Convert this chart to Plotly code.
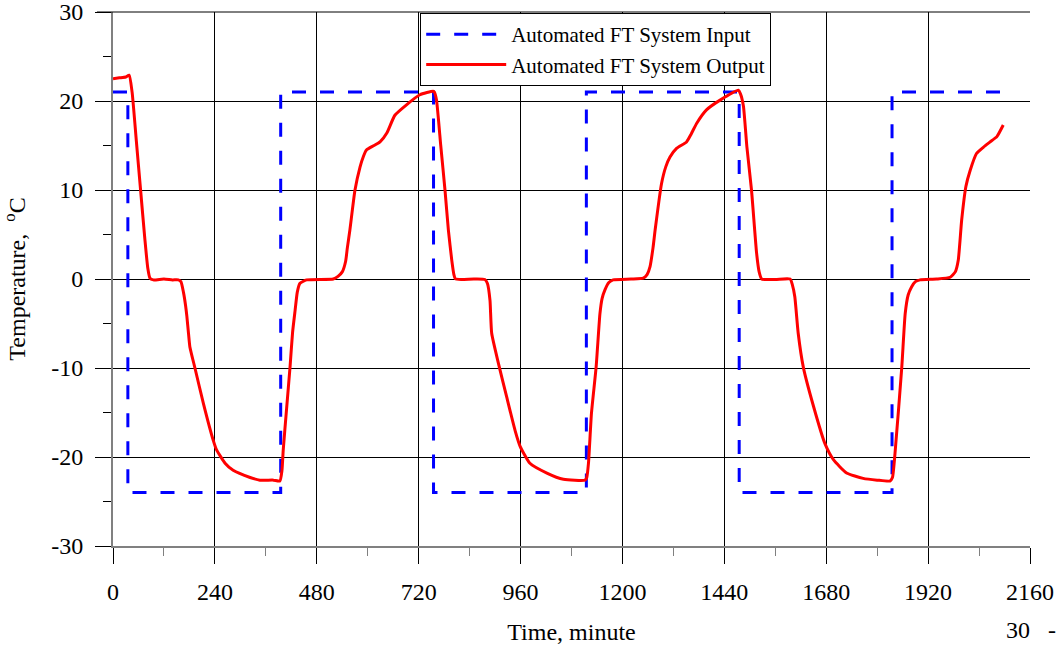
import plotly.graph_objects as go

# Input (set-point) square wave
input_time = [0, 35, 35, 395, 395, 755, 755, 1115, 1115, 1475, 1475, 1835, 1835, 2098]
input_temp = [21, 21, -24, -24, 21, 21, -24, -24, 21, 21, -24, -24, 21, 21]

# Output (measured) temperature
output_time = [0, 15, 30, 38, 45, 55, 65, 75, 82, 87, 95, 120, 140, 154,
               160, 166, 171, 174, 178, 181, 193, 213, 236, 244, 264, 283, 323, 346, 378, 393,
               398, 401, 409, 417, 423, 429, 434, 440, 456, 519, 530, 540, 548, 552, 558, 570,
               582, 590, 597, 615, 629, 645, 664, 692, 723, 754,
               757, 762, 772, 782, 790, 798, 803, 806, 820, 850, 876, 882, 888, 892, 908, 927,
               947, 959, 982, 1022, 1061, 1112, 1116, 1120, 1127, 1138, 1147, 1152, 1159, 1168,
               1178, 1220, 1249, 1258, 1265, 1272, 1277, 1292, 1302, 1312, 1328, 1351, 1362,
               1375, 1398, 1430, 1473,
               1478, 1485, 1493, 1504, 1516, 1522, 1528, 1560, 1595, 1600, 1606, 1614, 1626,
               1650, 1677, 1697, 1728, 1767, 1800, 1830, 1836, 1842, 1858, 1866, 1873, 1881,
               1890, 1901, 1940, 1972, 1984, 1991, 1999, 2009, 2019, 2034, 2050, 2066, 2082, 2097]
output_temp = [22.5, 22.6, 22.7, 22.9, 21.0, 15.5, 10.0, 4.5, 1.2, 0.1, -0.1, 0.0, -0.1, -0.1,
               -0.3, -1.5, -3.0, -4.2, -6.2, -7.6, -10.0, -14.0, -18.1, -19.2, -20.7, -21.5, -22.3, -22.6, -22.6, -22.7,
               -21.5, -19.2, -14.5, -9.9, -6.0, -3.5, -1.5, -0.5, -0.1, 0.0, 0.3, 0.8, 2.0, 3.5, 5.5, 10.0,
               12.6, 13.8, 14.5, 15.0, 15.4, 16.4, 18.4, 19.6, 20.7, 21.1,
               21.0, 20.1, 15.0, 10.0, 5.5, 2.1, 0.5, 0.05, -0.05, 0.0, -0.05, -0.5, -2.4, -6.1, -9.5, -13.2,
               -17.0, -18.8, -20.7, -21.8, -22.5, -22.6, -22.3, -20.7, -15.1, -9.9, -3.9, -2.2, -1.2, -0.4,
               -0.1, 0.0, 0.1, 0.5, 1.4, 3.5, 5.5, 10.7, 12.6, 13.7, 14.7, 15.4, 16.3,
               17.5, 19.0, 20.1, 21.2,
               20.8, 19.4, 14.9, 10.0, 2.9, 0.8, 0.0, -0.05, 0.0, -0.6, -2.0, -6.1, -9.9,
               -14.3, -18.5, -20.3, -21.8, -22.4, -22.6, -22.7, -22.3, -19.6, -9.9, -3.9, -1.8, -0.9,
               -0.3, -0.1, 0.0, 0.2, 0.8, 2.1, 6.6, 10.4, 12.2, 14.1, 14.8, 15.4, 16.0, 17.3]

x_ticks = [0, 240, 480, 720, 960, 1200, 1440, 1680, 1920, 2160]
y_ticks = [-30, -20, -10, 0, 10, 20, 30]

FONT = "Liberation Serif, Times New Roman, serif"

fig = go.Figure()
fig.add_trace(go.Scatter(
    x=input_time, y=input_temp, mode="lines", name="Automated FT System Input",
    line=dict(color="#0000FF", width=3, dash="14px,14px"),
))
fig.add_trace(go.Scatter(
    x=output_time, y=output_temp, mode="lines", name="Automated FT System Output",
    line=dict(color="#FF0000", width=3, shape="spline", smoothing=0.5),
))

fig.update_layout(
    width=1056, height=649,
    margin=dict(l=113, r=26, t=12, b=103, autoexpand=False),
    paper_bgcolor="white", plot_bgcolor="white",
    font=dict(family=FONT, size=24, color="black"),
    showlegend=True,
    legend=dict(
        x=0.335, y=0.998, xanchor="left", yanchor="top",
        bgcolor="white", bordercolor="black", borderwidth=1,
        font=dict(family=FONT, size=21, color="black"),
        itemwidth=80, tracegroupgap=0,
    ),
    xaxis=dict(
        range=[0, 2160], tickvals=x_ticks, ticktext=[str(v) for v in x_ticks],
        showgrid=True, gridcolor="black", gridwidth=1,
        showline=True, linecolor="#808080", linewidth=2,
        ticks="outside", ticklen=16, tickcolor="black", tickwidth=1,
        minor=dict(dtick=120, tick0=0, ticks="outside", ticklen=8, tickcolor="#808080", showgrid=False),
        ticklabelstandoff=7, ticklabeloverflow="allow", automargin=False,
        zeroline=False,
        title=dict(text="Time, minute", font=dict(family=FONT, size=24), standoff=19),
    ),
    yaxis=dict(
        range=[-30, 30], tickvals=y_ticks, ticktext=[str(v) for v in y_ticks],
        showgrid=True, gridcolor="black", gridwidth=1,
        showline=True, linecolor="#808080", linewidth=2,
        ticks="outside", ticklen=16, tickcolor="black", tickwidth=1,
        minor=dict(dtick=5, tick0=-30, ticks="outside", ticklen=8, tickcolor="black", showgrid=False),
        ticklabelstandoff=7, ticklabeloverflow="allow", automargin=False,
        zeroline=False,
        title=dict(text="Temperature,  <sup>o</sup>C", font=dict(family=FONT, size=24), standoff=19),
    ),
    shapes=[dict(type="line", xref="paper", yref="paper", x0=-0.0175, x1=1, y0=1, y1=1,
                 line=dict(color="black", width=1))],
    annotations=[dict(
        text="30   -", xref="paper", yref="paper", x=0.9716, y=-0.157,
        xanchor="left", yanchor="middle", showarrow=False,
        font=dict(family=FONT, size=24, color="black"),
    )],
)

fig.write_html("out.html")
